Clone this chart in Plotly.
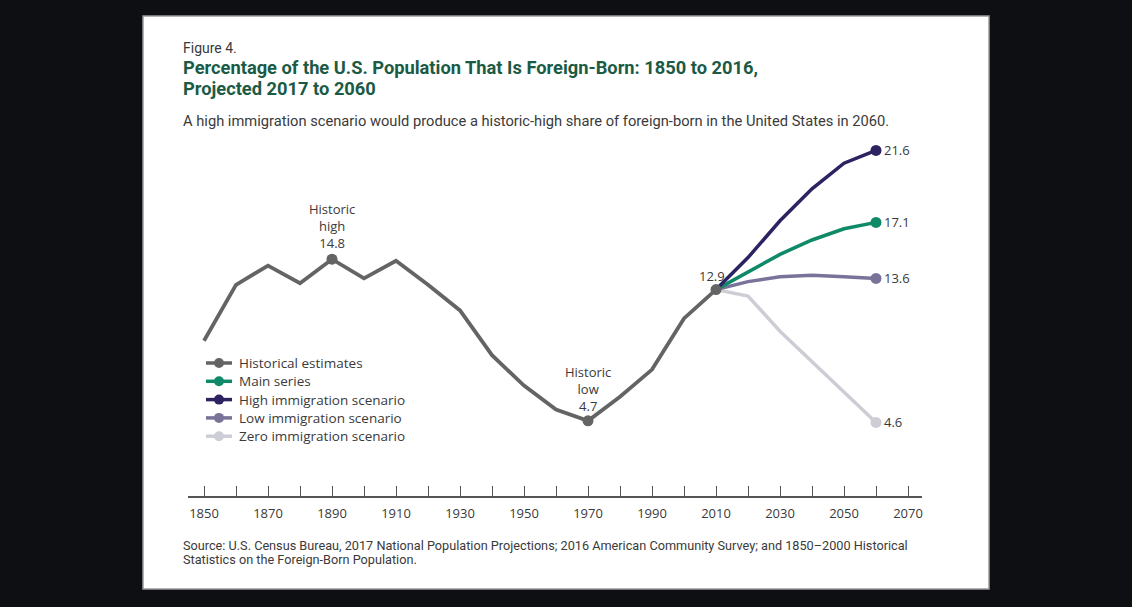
import plotly.graph_objects as go

# historical estimates, percent foreign-born
hist_years = [1850, 1860, 1870, 1880, 1890, 1900, 1910, 1920, 1930,
              1940, 1950, 1960, 1970, 1980, 1990, 2000, 2010]
hist_pct = [9.7, 13.2, 14.4, 13.3, 14.8, 13.6, 14.7, 13.2, 11.6,
            8.8, 6.9, 5.4, 4.7, 6.2, 7.9, 11.1, 12.9]

# highlighted historical points
mark_years = [1890, 1970, 2010]
mark_pct = [14.8, 4.7, 12.9]

# projections (start at the 2010 estimate)
proj_years = [2010, 2020, 2030, 2040, 2050, 2060]
main_pct = [12.9, 14.0, 15.1, 16.0, 16.7, 17.1]
high_pct = [12.9, 14.9, 17.2, 19.2, 20.8, 21.6]
low_pct = [12.9, 13.4, 13.7, 13.8, 13.7, 13.6]
zero_pct = [12.9, 12.5, 10.3, 8.4, 6.5, 4.6]

tick_years = list(range(1850, 2071, 10))
tick_labels = [str(y) if (y - 1850) % 20 == 0 else "" for y in tick_years]

GRAY = "#646464"
GREEN = "#0f8a68"
NAVY = "#2b2362"
PURPLE = "#7a7399"
LIGHT = "#cdcdd5"
TXT = "#3a3a3a"
LBL_FONT = "Open Sans, Noto Sans, sans-serif"

fig = go.Figure()

# projection lines, drawn under the historical line
proj = [("Zero immigration scenario", zero_pct, LIGHT),
        ("Low immigration scenario", low_pct, PURPLE),
        ("Main series", main_pct, GREEN),
        ("High immigration scenario", high_pct, NAVY)]
for name, vals, col in proj:
    fig.add_trace(go.Scatter(x=proj_years, y=vals, mode="lines", name=name,
                             line=dict(color=col, width=3.5)))
    fig.add_trace(go.Scatter(x=proj_years[-1:], y=vals[-1:], mode="markers", name=name,
                             marker=dict(color=col, size=11)))

fig.add_trace(go.Scatter(x=hist_years, y=hist_pct, mode="lines", name="Historical estimates",
                         line=dict(color=GRAY, width=3.8)))
fig.add_trace(go.Scatter(x=mark_years, y=mark_pct, mode="markers", name="Historical estimates",
                         marker=dict(color=GRAY, size=11)))

# point labels
fig.add_annotation(x=1890, y=14.8, text="Historic<br>high<br>14.8", showarrow=False,
                   yanchor="bottom", yshift=5, font=dict(size=13, color=TXT, family=LBL_FONT))
fig.add_annotation(x=1970, y=4.7, text="Historic<br>low<br>4.7", showarrow=False,
                   yanchor="bottom", yshift=4, font=dict(size=13, color=TXT, family=LBL_FONT))
fig.add_annotation(x=2010, y=12.9, text="12.9", showarrow=False, xanchor="center",
                   xshift=-4, yanchor="bottom", yshift=3,
                   font=dict(size=13, color=TXT, family=LBL_FONT))
for name, vals, col in proj:
    fig.add_annotation(x=proj_years[-1], y=vals[-1], text=f"{vals[-1]:.1f}",
                       showarrow=False, xanchor="left", xshift=6,
                       font=dict(size=13, color=TXT, family=LBL_FONT))

# heading and source text (paper coords)
def px_x(px):
    return (px - 188) / 734

def px_y(py):
    return (496 - py) / 400

# legend drawn by hand so the rows keep the tight spacing of the original
legend_items = [("Historical estimates", GRAY), ("Main series", GREEN),
                ("High immigration scenario", NAVY),
                ("Low immigration scenario", PURPLE),
                ("Zero immigration scenario", LIGHT)]
for i, (name, col) in enumerate(legend_items):
    yc = 363 + i * 18.3
    fig.add_shape(type="line", xref="paper", yref="paper",
                  x0=px_x(206), x1=px_x(232), y0=px_y(yc), y1=px_y(yc),
                  line=dict(color=col, width=3.5))
    fig.add_shape(type="circle", xref="paper", yref="paper",
                  x0=px_x(214), x1=px_x(224), y0=px_y(yc - 5), y1=px_y(yc + 5),
                  fillcolor=col, line=dict(width=0))
    fig.add_annotation(xref="paper", yref="paper", x=px_x(237), y=px_y(yc), text=name,
                       showarrow=False, xanchor="left", yanchor="middle",
                       font=dict(size=13.5, color=TXT, family=LBL_FONT))

fig.add_annotation(xref="paper", yref="paper", x=px_x(181), y=px_y(48), text="Figure 4.",
                   showarrow=False, xanchor="left", yanchor="middle",
                   font=dict(size=14, color=TXT, family="Roboto"))
for py, line in [(68, "Percentage of the U.S. Population That Is Foreign-Born: 1850 to 2016,"),
                 (88, "Projected 2017 to 2060")]:
    fig.add_annotation(xref="paper", yref="paper", x=px_x(181), y=px_y(py),
                       text="<b>" + line + "</b>", showarrow=False,
                       xanchor="left", yanchor="middle",
                       font=dict(size=18.3, color="#1b5a44", family="Roboto"))
fig.add_annotation(xref="paper", yref="paper", x=px_x(181), y=px_y(121),
                   text="A high immigration scenario would produce a historic-high share "
                        "of foreign-born in the United States in 2060.",
                   showarrow=False, xanchor="left", yanchor="middle",
                   font=dict(size=14.7, color=TXT, family="Roboto"))
for py, line in [(545, "Source: U.S. Census Bureau, 2017 National Population Projections; "
                       "2016 American Community Survey; and 1850\u20132000 Historical"),
                 (559, "Statistics on the Foreign-Born Population.")]:
    fig.add_annotation(xref="paper", yref="paper", x=px_x(181), y=px_y(py), text=line,
                       showarrow=False, xanchor="left", yanchor="middle",
                       font=dict(size=12.7, color=TXT, family="Roboto"))

# white panel
fig.add_shape(type="rect", xref="paper", yref="paper", layer="below",
              x0=px_x(143), x1=px_x(989), y0=px_y(589), y1=px_y(16),
              fillcolor="white", line=dict(color="#9a9a9a", width=1.5))

fig.update_layout(
    width=1132, height=607,
    margin=dict(l=188, r=210, t=96, b=111, pad=0),
    paper_bgcolor="#0e0f13",
    plot_bgcolor="white",
    showlegend=False,
    xaxis=dict(range=[1845, 1845 + 734 / 3.2], showgrid=False, zeroline=False,
               showline=True, linecolor="#555", linewidth=1.5,
               ticks="inside", ticklen=10, tickcolor="#555", tickwidth=1.2,
               tickvals=tick_years, ticktext=tick_labels, ticklabelstandoff=5,
               tickfont=dict(size=13, color=TXT, family=LBL_FONT)),
    yaxis=dict(range=[0, 25], visible=False),
)

fig.write_html("out.html", config={"displayModeBar": False},
               post_script="document.body.style.margin='0';"
                           "document.body.style.background='#0e0f13';")
